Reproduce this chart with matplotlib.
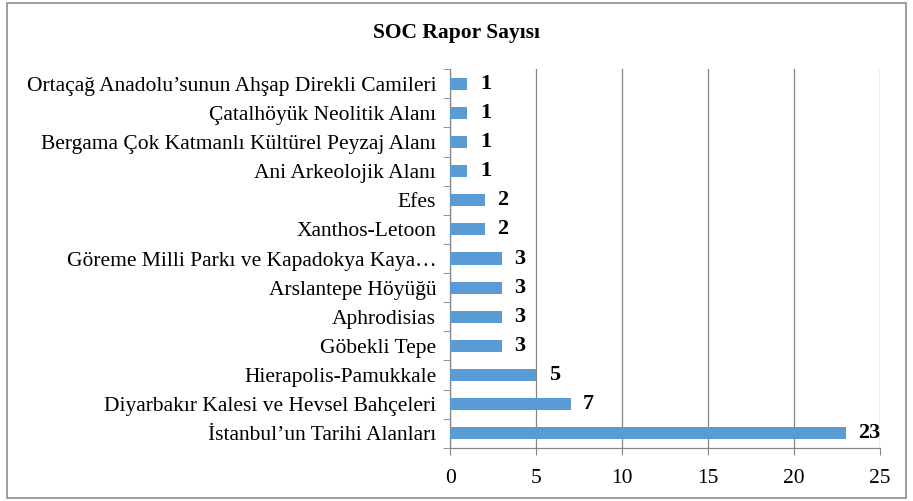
import matplotlib

matplotlib.use('Agg')
import matplotlib.pyplot as plt
from matplotlib.patches import Rectangle
import numpy as np

plt.rcParams['font.family'] = ['Liberation Serif', 'DejaVu Serif']

sites = [
    "Ortaçağ Anadolu’sunun Ahşap Direkli Camileri",
    "Çatalhöyük Neolitik Alanı",
    "Bergama Çok Katmanlı Kültürel Peyzaj Alanı",
    "Ani Arkeolojik Alanı",
    "Efes",
    "Xanthos-Letoon",
    "Göreme Milli Parkı ve Kapadokya Kaya…",
    "Arslantepe Höyüğü",
    "Aphrodisias",
    "Göbekli Tepe",
    "Hierapolis-Pamukkale",
    "Diyarbakır Kalesi ve Hevsel Bahçeleri",
    "İstanbul’un Tarihi Alanları",
]
reports = [1, 1, 1, 1, 2, 2, 3, 3, 3, 3, 5, 7, 23]
x_ticks = [0, 5, 10, 15, 20, 25]

bar_color = '#5B9BD5'
grid_color = '#878787'

fig = plt.figure(figsize=(9.13, 5.01), dpi=100)
ax = fig.add_axes([0.493, 0.106, 0.471, 0.756])

# first site on top
y = np.arange(len(sites))[::-1]
ax.barh(y, reports, height=0.42, color=bar_color, zorder=3)

for yi, v in zip(y, reports):
    ax.annotate(str(v), (v, yi), xytext=(9, 0), textcoords='offset points',
                ha='left', va='center', fontsize=16, fontweight='bold', zorder=4)

ax.set_xlim(0, 25)
ax.set_ylim(-0.5, len(sites) - 0.5)
ax.set_xticks(x_ticks)
ax.set_yticks(y)
ax.set_yticklabels(sites)
ax.set_yticks(np.arange(len(sites) + 1) - 0.5, minor=True)

ax.tick_params(axis='y', which='major', length=0, labelsize=15.5, pad=10)
ax.tick_params(axis='y', which='minor', length=5, color=grid_color, direction='out')
ax.tick_params(axis='x', which='major', length=5, color=grid_color, labelsize=15.5, pad=10)

ax.grid(axis='x', color=grid_color, linewidth=0.9, zorder=0)
for s in ['top', 'right']:
    ax.spines[s].set_visible(False)
for s in ['left', 'bottom']:
    ax.spines[s].set_color(grid_color)
    ax.spines[s].set_linewidth(0.9)

fig.text(0.5, 0.934, 'SOC Rapor Sayısı', ha='center', va='center',
         fontsize=15.5, fontweight='bold')

# outer chart border
fig.patches.append(Rectangle((0.008, 0.006), 0.984, 0.988, transform=fig.transFigure,
                             fill=False, edgecolor='#8c8c8c', linewidth=1.2))

plt.savefig('out.png', dpi=100)
